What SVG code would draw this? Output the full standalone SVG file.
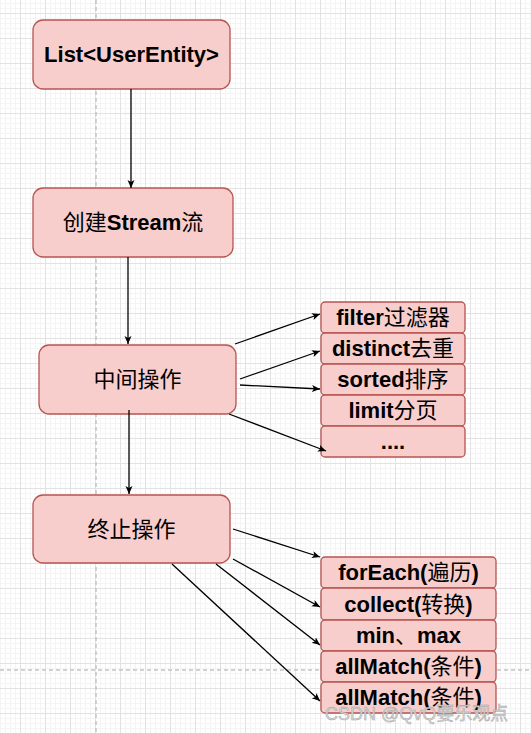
<svg xmlns="http://www.w3.org/2000/svg" width="531" height="733" viewBox="0 0 531 733">
<style>
.box{fill:#f8cecc;stroke:#b85450;stroke-width:1.3}
.t{font-family:"Liberation Sans","Noto Sans CJK SC",sans-serif;font-size:22px;fill:#000;text-anchor:middle}
.b{font-weight:bold}
.c{font-family:"Noto Sans CJK SC","Liberation Sans",sans-serif;font-weight:normal}
.edge{stroke:#000;stroke-width:1.3;fill:none;marker-end:url(#arr)}
.dash{stroke:#c4c4c4;stroke-width:1.5;stroke-dasharray:4 3;fill:none}
</style>
<defs>
<pattern id="grid" x="20" y="13" width="25" height="25" patternUnits="userSpaceOnUse">
<path d="M5.5 0V25M10.5 0V25M15.5 0V25M20.5 0V25M0 5.5H25M0 10.5H25M0 15.5H25M0 20.5H25" stroke="#f4f4f4" stroke-width="1"/>
<path d="M0.5 0V25M0 0.5H25" stroke="#e2e2e2" stroke-width="1"/>
</pattern>
<marker id="arr" markerUnits="userSpaceOnUse" markerWidth="10" markerHeight="8" refX="8" refY="3.5" orient="auto">
<path d="M0,0 L8,3.5 L0,7 L2,3.5 z" fill="#000"/>
</marker>
</defs>
<rect width="531" height="733" fill="#fff"/>
<rect width="531" height="733" fill="url(#grid)"/>
<path class="dash" d="M96 0V733"/>
<path class="dash" d="M0 670H531"/>

<g id="n1"><rect class="box" x="33" y="20" width="197" height="69" rx="10"/><text class="t b" x="131.5" y="62">List&lt;UserEntity&gt;</text></g>
<g id="n2"><rect class="box" x="33" y="188" width="200" height="69" rx="10"/><text class="t" x="133" y="230"><tspan class="c">创建</tspan><tspan class="b">Stream</tspan><tspan class="c">流</tspan></text></g>
<g id="n3"><rect class="box" x="39" y="345" width="197" height="69" rx="10"/><text class="t c" x="137.5" y="387">中间操作</text></g>
<g id="n4"><rect class="box" x="33" y="495" width="197" height="68" rx="10"/><text class="t c" x="131.5" y="536.5">终止操作</text></g>

<g id="op-filter"><rect class="box" x="321" y="302" width="144" height="31" rx="4"/><text class="t" x="393" y="325"><tspan class="b">filter</tspan><tspan class="c">过滤器</tspan></text></g>
<g id="op-distinct"><rect class="box" x="321" y="333" width="144" height="31" rx="4"/><text class="t" x="393" y="356"><tspan class="b">distinct</tspan><tspan class="c">去重</tspan></text></g>
<g id="op-sorted"><rect class="box" x="321" y="364" width="144" height="31" rx="4"/><text class="t" x="393" y="387"><tspan class="b">sorted</tspan><tspan class="c">排序</tspan></text></g>
<g id="op-limit"><rect class="box" x="321" y="395" width="144" height="31" rx="4"/><text class="t" x="393" y="418"><tspan class="b">limit</tspan><tspan class="c">分页</tspan></text></g>
<g id="op-more"><rect class="box" x="321" y="426" width="144" height="31" rx="4"/><text class="t b" x="393" y="449">....</text></g>

<g id="op-foreach"><rect class="box" x="321" y="557" width="175" height="31" rx="4"/><text class="t" x="408.5" y="580"><tspan class="b">forEach(</tspan><tspan class="c">遍历</tspan><tspan class="b">)</tspan></text></g>
<g id="op-collect"><rect class="box" x="321" y="588" width="175" height="32" rx="4"/><text class="t" x="408.5" y="611.5"><tspan class="b">collect(</tspan><tspan class="c">转换</tspan><tspan class="b">)</tspan></text></g>
<g id="op-minmax"><rect class="box" x="321" y="620" width="175" height="31" rx="4"/><text class="t" x="408.5" y="643"><tspan class="b">min</tspan><tspan class="c">、</tspan><tspan class="b">max</tspan></text></g>
<g id="op-allmatch1"><rect class="box" x="321" y="651" width="175" height="31" rx="4"/><text class="t" x="408.5" y="674"><tspan class="b">allMatch(</tspan><tspan class="c">条件</tspan><tspan class="b">)</tspan></text></g>
<g id="op-allmatch2"><rect class="box" x="321" y="682" width="175" height="31" rx="4"/><text class="t" x="408.5" y="705"><tspan class="b">allMatch(</tspan><tspan class="c">条件</tspan><tspan class="b">)</tspan></text></g>

<g id="connectors">
<path class="edge" d="M131 89V188"/>
<path class="edge" d="M128 257V344"/>
<path class="edge" d="M129 410V494"/>
<path class="edge" d="M235 344L320 314"/>
<path class="edge" d="M240 379L320 351"/>
<path class="edge" d="M240 385L320 389"/>
<path class="edge" d="M229 414L326 451"/>
<path class="edge" d="M233 529L320 557"/>
<path class="edge" d="M233 559L320 607"/>
<path class="edge" d="M216 564L320 645"/>
<path class="edge" d="M172 564L320 701"/>
</g>

<text x="325" y="720" font-family="'Liberation Sans','Noto Sans CJK SC',sans-serif" font-size="18" fill="#d4d4d4" stroke="#9e9e9e" stroke-width="0.4">CSDN @QvQ要乐观点</text>
</svg>
